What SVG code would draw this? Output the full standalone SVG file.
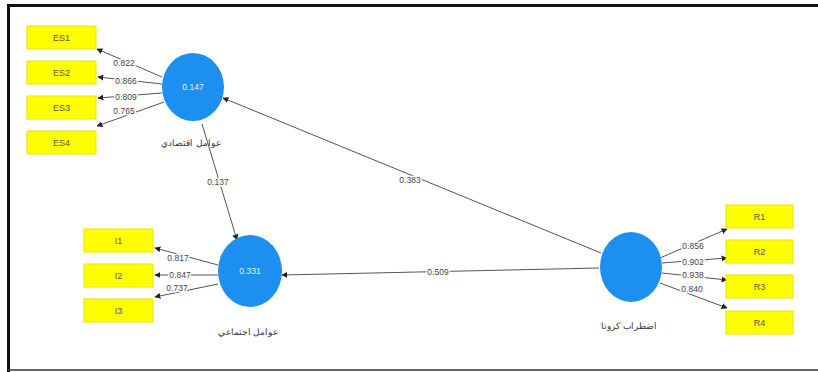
<svg xmlns="http://www.w3.org/2000/svg" width="818" height="372" viewBox="0 0 818 372">
<style>
.box{fill:#ffff00;stroke:#e6e600;stroke-width:1}
.bt{font-family:"Liberation Sans",Arial,sans-serif;font-size:9px;fill:#555;text-anchor:middle}
.lv{fill:#1c8ff0}
.ct{font-family:"Liberation Sans",Arial,sans-serif;font-size:8.5px;fill:#e8f4ff;text-anchor:middle}
.lab{font-family:"Liberation Sans","Noto Sans",sans-serif;font-size:9px;fill:#333;text-anchor:middle}
.ln{stroke:#555;stroke-width:1;fill:none;marker-end:url(#ah)}
.num{font-family:"Liberation Sans",Arial,sans-serif;font-size:8.5px;fill:#444;text-anchor:middle;stroke:#fff;stroke-width:3px;paint-order:stroke;stroke-linejoin:round}
</style>
<defs>
<marker id="ah" viewBox="0 0 10 10" refX="9" refY="5" markerWidth="6" markerHeight="6" orient="auto" markerUnits="userSpaceOnUse">
<path d="M0,0 L10,5 L0,10 z" fill="#222"/>
</marker>
</defs>
<rect x="0" y="0" width="818" height="372" fill="#fff"/>
<path d="M8.5,372 V5.5 H818" stroke="#111" stroke-width="3" fill="none"/>
<line x1="8" y1="370" x2="818" y2="370" stroke="#333" stroke-width="1.5"/>

<g id="connectors">
<line class="ln" x1="162" y1="77" x2="97" y2="49"/>
<line class="ln" x1="162" y1="84" x2="98" y2="77"/>
<line class="ln" x1="162" y1="93" x2="98" y2="98"/>
<line class="ln" x1="164" y1="102" x2="97" y2="126"/>
<line class="ln" x1="218" y1="265" x2="155" y2="248"/>
<line class="ln" x1="218" y1="275" x2="155" y2="275"/>
<line class="ln" x1="218" y1="284" x2="155" y2="297"/>
<line class="ln" x1="660" y1="258" x2="727" y2="229"/>
<line class="ln" x1="662" y1="263" x2="727" y2="258"/>
<line class="ln" x1="662" y1="273" x2="727" y2="280"/>
<line class="ln" x1="660" y1="283" x2="727" y2="308"/>
<line class="ln" x1="601" y1="253" x2="223" y2="98"/>
<line class="ln" x1="599" y1="268" x2="282" y2="275"/>
<line class="ln" x1="202" y1="124" x2="237" y2="240"/>
<text class="num" x="124" y="66">0.822</text>
<text class="num" x="126" y="84">0.866</text>
<text class="num" x="126" y="100">0.809</text>
<text class="num" x="124" y="114">0.765</text>
<text class="num" x="178" y="261">0.817</text>
<text class="num" x="180" y="278">0.847</text>
<text class="num" x="177" y="291">0.737</text>
<text class="num" x="693" y="249">0.856</text>
<text class="num" x="693" y="265">0.902</text>
<text class="num" x="693" y="278">0.938</text>
<text class="num" x="692" y="292">0.840</text>
<text class="num" x="410" y="183">0.383</text>
<text class="num" x="438" y="275">0.509</text>
<text class="num" x="218" y="185">0.137</text>
</g>

<g id="ES1"><rect class="box" x="27" y="26" width="69" height="23"/><text class="bt" x="61.5" y="40.5">ES1</text></g>
<g id="ES2"><rect class="box" x="27" y="61" width="69" height="23"/><text class="bt" x="61.5" y="75.5">ES2</text></g>
<g id="ES3"><rect class="box" x="27" y="96" width="69" height="23"/><text class="bt" x="61.5" y="110.5">ES3</text></g>
<g id="ES4"><rect class="box" x="27" y="131" width="69" height="23"/><text class="bt" x="61.5" y="145.5">ES4</text></g>

<g id="I1"><rect class="box" x="84" y="229" width="69" height="23"/><text class="bt" x="118.5" y="243.5">I1</text></g>
<g id="I2"><rect class="box" x="84" y="264" width="69" height="23"/><text class="bt" x="118.5" y="278.5">I2</text></g>
<g id="I3"><rect class="box" x="84" y="299" width="69" height="23"/><text class="bt" x="118.5" y="313.5">I3</text></g>

<g id="R1"><rect class="box" x="726" y="205" width="67" height="23"/><text class="bt" x="759.5" y="219.5">R1</text></g>
<g id="R2"><rect class="box" x="726" y="240" width="67" height="23"/><text class="bt" x="759.5" y="254.5">R2</text></g>
<g id="R3"><rect class="box" x="726" y="275" width="67" height="23"/><text class="bt" x="759.5" y="289.5">R3</text></g>
<g id="R4"><rect class="box" x="726" y="311" width="67" height="23"/><text class="bt" x="759.5" y="325.5">R4</text></g>

<g id="economic"><ellipse class="lv" cx="193" cy="87" rx="31" ry="34"/><text class="ct" x="193" y="90">0.147</text><text class="lab" x="191" y="146">عوامل اقتصادي</text></g>
<g id="social"><ellipse class="lv" cx="250" cy="271" rx="32" ry="36"/><text class="ct" x="250" y="274">0.331</text><text class="lab" x="248" y="335">عوامل اجتماعي</text></g>
<g id="corona"><ellipse class="lv" cx="631" cy="267" rx="31" ry="35"/><text class="lab" x="629" y="329">اضطراب كرونا</text></g>
</svg>
